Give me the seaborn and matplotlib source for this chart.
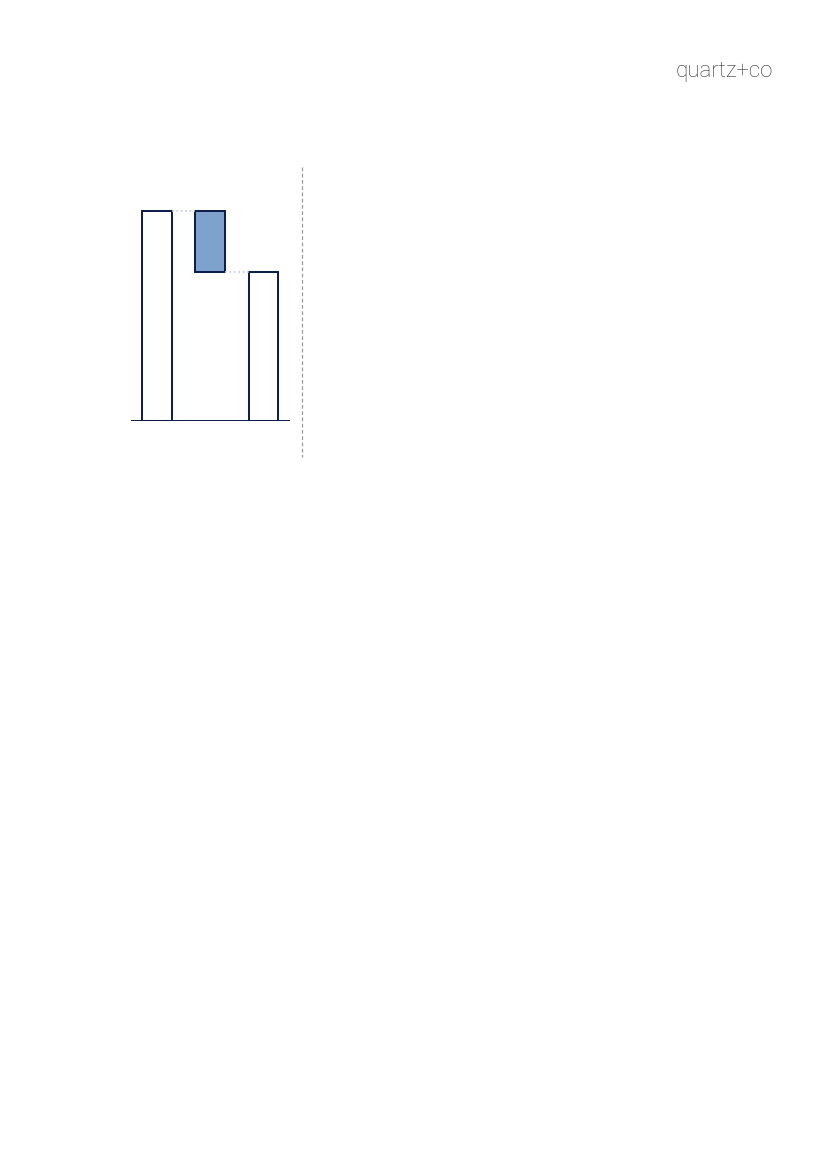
import matplotlib
matplotlib.use('Agg')
import matplotlib.pyplot as plt
from matplotlib.lines import Line2D
import seaborn as sns
import pandas as pd

# waterfall: start, decrease, end
steps = ['Start', 'Change', 'End']
tops = [100, 100, 71]
bottoms = [0, 71, 0]
fills = ['white', '#7fa2cc', 'white']

navy = '#0a1a48'

sns.set_theme(style='white')
plt.rcParams['font.family'] = ['Roboto', 'DejaVu Sans']

fig = plt.figure(figsize=(8.27, 11.69), dpi=100)
ax = fig.add_axes([130.7 / 827, 1 - 421.3 / 1169, 159.3 / 827, 252.7 / 1169])

df = pd.DataFrame({'step': steps,
                   'height': [t - b for t, b in zip(tops, bottoms)],
                   'bottom': bottoms})

sns.barplot(data=df, x='step', y='height', bottom=df['bottom'].values,
            color='white', edgecolor=navy, linewidth=1.4, width=0.56,
            saturation=1, ax=ax)
for patch, fc in zip(ax.patches, fills):
    patch.set_facecolor(fc)

# connectors between bars
w = 0.56 / 2
ax.plot([0 + w, 1 - w], [tops[0], tops[0]], color='#c5cdda', lw=1.2, ls=':')
ax.plot([1 + w, 2 - w], [bottoms[1], bottoms[1]], color='#c5cdda', lw=1.2, ls=':')

ax.set_xlim(-0.5, 2.5)
ax.set_ylim(0, 120)
ax.axhline(0, color=navy, lw=1.4)
ax.set_xticks([])
ax.set_yticks([])
ax.set_xlabel('')
ax.set_ylabel('')
sns.despine(ax=ax, left=True, bottom=True)
ax.patch.set_alpha(0)

# vertical dashed separator
fig.add_artist(Line2D([301.7 / 827, 301.7 / 827], [1 - 167 / 1169, 1 - 457 / 1169],
                      transform=fig.transFigure, color='#9a9a9a', lw=0.9, ls=(0, (3, 2))))

fig.text(773 / 827, 1 - 72 / 1169, 'quartz+co', ha='right', va='center',
         fontsize=16, color='#333333', fontweight='light')

fig.savefig('out.png', dpi=100)
